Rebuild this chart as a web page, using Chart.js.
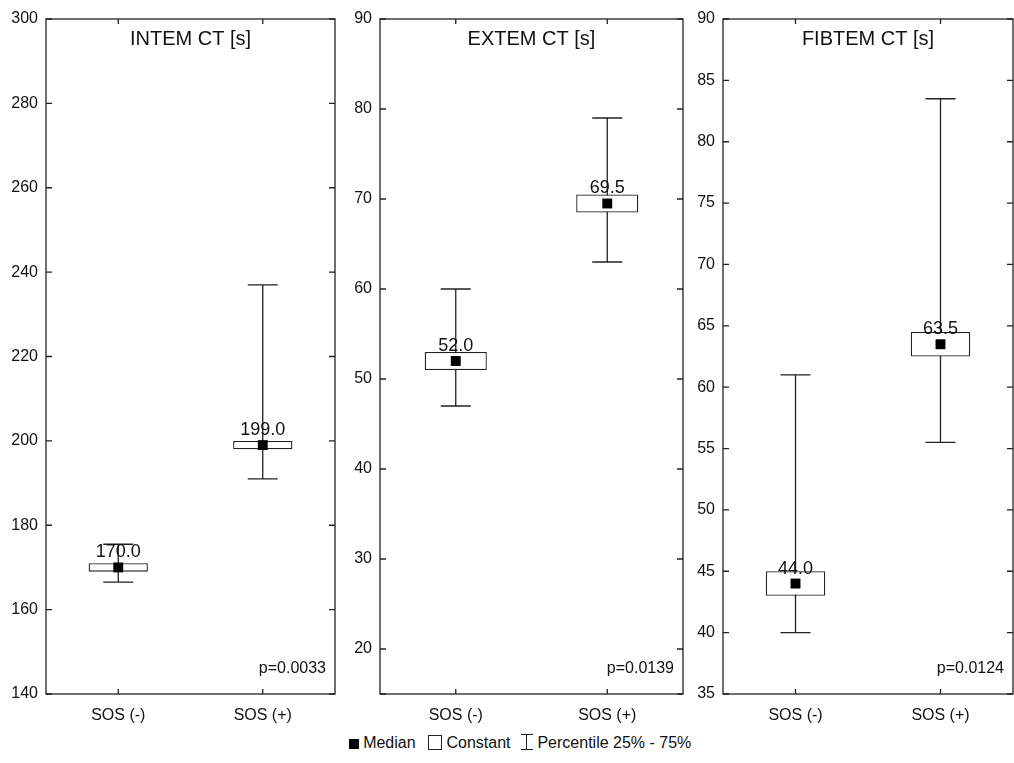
<!DOCTYPE html>
<html>
<head>
<meta charset="utf-8">
<script src="https://cdn.jsdelivr.net/npm/chart.js@4"></script>
<style>
  body { margin: 0; background: #fff; font-family: "Liberation Sans", Arial, sans-serif; overflow: hidden; }
  #wrap { position: relative; width: 1014px; height: 763px; overflow: hidden; }
  .panel { position: absolute; top: 0; height: 725px; }
  #legend { position: absolute; left: 0; width: 1040px; top: 734px; text-align: center; font-size: 16px; color: #111; }
  .sq { display: inline-block; width: 10px; height: 10px; background: #000; vertical-align: -1px; }
  .box { display: inline-block; width: 12px; height: 13px; border: 1px solid #222; vertical-align: -2px; margin-left: 8px; }
  .perc { display: inline-block; position: relative; width: 12px; height: 14px; border-top: 1px solid #222; border-bottom: 1px solid #222; vertical-align: -2px; margin-left: 6px; }
  .perc i { position: absolute; left: 5px; top: 0; width: 1px; height: 14px; background: #222; }
</style>
</head>
<body>
<div id="wrap">
  <div class="panel" style="left:0;width:345px"><canvas id="c1"></canvas></div>
  <div class="panel" style="left:340px;width:353px"><canvas id="c2"></canvas></div>
  <div class="panel" style="left:683px;width:337px"><canvas id="c3"></canvas></div>
  <div id="legend"><span class="sq"></span> Median <span class="box"></span> Constant <span class="perc"><i></i></span> Percentile 25% - 75%</div>
</div>
<script>
const categories = ['SOS (-)', 'SOS (+)'];

// INTEM CT
const intemMedian = [170, 199];
const intemQ1 = [169, 198];
const intemQ3 = [171, 200];
const intemLow = [166.5, 191];
const intemHigh = [175.5, 237];

// EXTEM CT
const extemMedian = [52, 69.5];
const extemQ1 = [51, 68.5];
const extemQ3 = [53, 70.5];
const extemLow = [47, 63];
const extemHigh = [60, 79];

// FIBTEM CT
const fibtemMedian = [44, 63.5];
const fibtemQ1 = [43, 62.5];
const fibtemQ3 = [45, 64.5];
const fibtemLow = [40, 55.5];
const fibtemHigh = [61, 83.5];

const FONT = "'Liberation Sans', Arial, sans-serif";
const INK = '#222';

// frame + inward ticks, whiskers, median labels, title, p value
const boxPlotPlugin = {
  id: 'boxPlot',
  beforeDatasetsDraw(chart) {
    const o = chart.options.plugins.boxPlot;
    const ctx = chart.ctx, x = chart.scales.x, y = chart.scales.y;
    ctx.save();
    ctx.strokeStyle = INK;
    ctx.lineWidth = 1.3;
    o.low.forEach((lo, i) => {
      const px = x.getPixelForValue(i);
      const yl = y.getPixelForValue(lo), yh = y.getPixelForValue(o.high[i]);
      ctx.beginPath();
      ctx.moveTo(px, yh); ctx.lineTo(px, yl);
      ctx.moveTo(px - 15, yh); ctx.lineTo(px + 15, yh);
      ctx.moveTo(px - 15, yl); ctx.lineTo(px + 15, yl);
      ctx.stroke();
    });
    ctx.restore();
  },
  afterDraw(chart) {
    const o = chart.options.plugins.boxPlot;
    const ctx = chart.ctx, a = chart.chartArea, x = chart.scales.x, y = chart.scales.y;
    ctx.save();
    ctx.strokeStyle = INK;
    ctx.lineWidth = 1.3;
    ctx.strokeRect(a.left, a.top, a.right - a.left, a.bottom - a.top);
    ctx.beginPath();
    y.ticks.forEach((t, i) => {
      const py = y.getPixelForTick(i);
      ctx.moveTo(a.left, py); ctx.lineTo(a.left + 6, py);
      ctx.moveTo(a.right, py); ctx.lineTo(a.right - 6, py);
    });
    x.ticks.forEach((t, i) => {
      const px = x.getPixelForTick(i);
      ctx.moveTo(px, a.top); ctx.lineTo(px, a.top + 5);
      ctx.moveTo(px, a.bottom); ctx.lineTo(px, a.bottom - 5);
    });
    ctx.stroke();

    ctx.fillStyle = '#111';
    ctx.textAlign = 'center';
    ctx.textBaseline = 'middle';
    ctx.font = '18px ' + FONT;
    o.median.forEach((m, i) => {
      ctx.fillText(m.toFixed(1), x.getPixelForValue(i), y.getPixelForValue(m) - 15);
    });
    ctx.font = '20px ' + FONT;
    ctx.fillText(o.title, (a.left + a.right) / 2, a.top + 20);
    ctx.font = '16px ' + FONT;
    ctx.textAlign = 'right';
    ctx.fillText(o.p, a.right - 9, a.bottom - 25);
    ctx.restore();
  }
};

function makeChart(id, title, p, median, q1, q3, low, high, yMin, yMax, step, yWidth, padRight) {
  return new Chart(document.getElementById(id), {
    type: 'bar',
    data: {
      labels: categories,
      datasets: [{
        data: q1.map((v, i) => [v, q3[i]]),
        backgroundColor: '#fff',
        borderColor: INK,
        borderWidth: 1.3,
        borderSkipped: false,
        categoryPercentage: 1,
        barPercentage: 0.41,
        order: 2
      }, {
        type: 'line',
        data: median,
        showLine: false,
        pointStyle: 'rect',
        pointRadius: 7,
        pointBackgroundColor: '#000',
        pointBorderWidth: 0,
        order: 1
      }]
    },
    options: {
      responsive: true,
      maintainAspectRatio: false,
      animation: false,
      layout: { padding: { top: 19, right: padRight, left: 0, bottom: 0 } },
      scales: {
        x: {
          offset: true,
          grid: { display: false, drawTicks: false },
          border: { display: false },
          ticks: { padding: 12, color: '#111', font: { size: 16, family: FONT } },
          afterFit: s => { s.height = 31; }
        },
        y: {
          min: yMin, max: yMax,
          grid: { display: false, drawTicks: false },
          border: { display: false },
          ticks: { stepSize: step, padding: 8, color: '#111', font: { size: 16, family: FONT },
            callback: v => (v === yMin && yMin % step !== 0) ? '' : v },
          afterFit: s => { s.width = yWidth; }
        }
      },
      plugins: {
        legend: { display: false },
        tooltip: { enabled: false },
        boxPlot: { title: title, p: p, median: median, low: low, high: high }
      }
    },
    plugins: [boxPlotPlugin]
  });
}

makeChart('c1', 'INTEM CT [s]', 'p=0.0033', intemMedian, intemQ1, intemQ3, intemLow, intemHigh, 140, 300, 20, 46, 10);
makeChart('c2', 'EXTEM CT [s]', 'p=0.0139', extemMedian, extemQ1, extemQ3, extemLow, extemHigh, 15, 90, 10, 40, 10);
makeChart('c3', 'FIBTEM CT [s]', 'p=0.0124', fibtemMedian, fibtemQ1, fibtemQ3, fibtemLow, fibtemHigh, 35, 90, 5, 40, 2);
</script>
</body>
</html>
